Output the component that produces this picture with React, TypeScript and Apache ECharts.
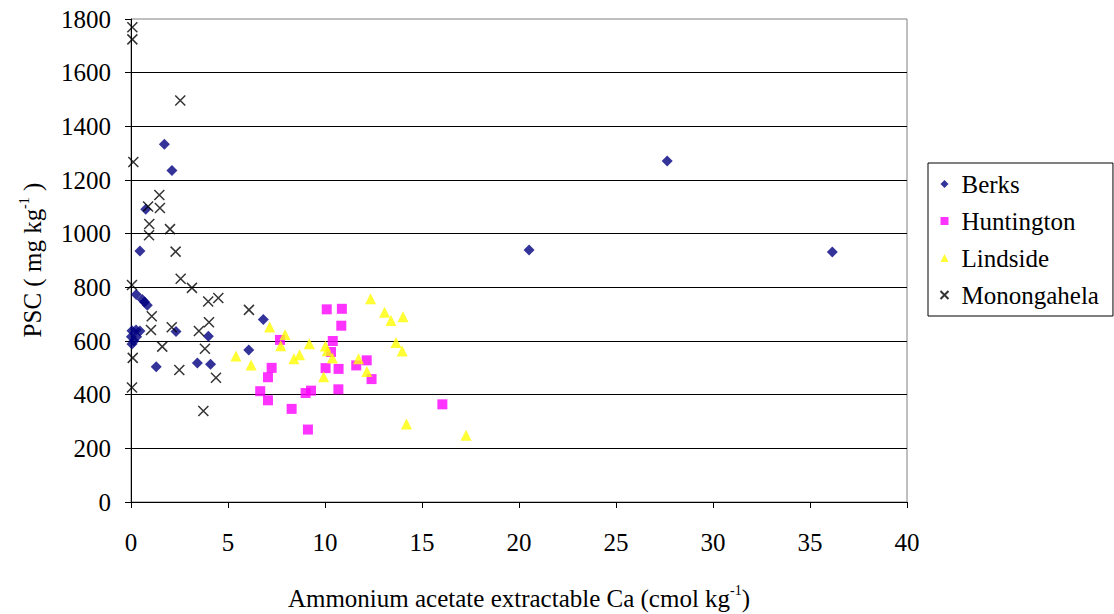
import React, { useEffect, useRef } from "react";
import * as echarts from "echarts";

const seriesNames = ["Berks", "Huntington", "Lindside", "Monongahela"];
const xTicks = { min: 0, max: 40, interval: 5 };
const yTicks = { min: 0, max: 1800, interval: 200 };

const berks: [number, number][] = [
  [1.72, 1333], [2.11, 1235], [0.76, 1091], [0.46, 935], [0.27, 773],
  [0.58, 755], [0.7, 745], [0.84, 733], [6.82, 680], [2.32, 635],
  [3.99, 618], [6.07, 566], [1.3, 504], [3.42, 518], [4.1, 513],
  [0.05, 638], [0.26, 641], [0.46, 637], [0.02, 616], [0.29, 616],
  [0.05, 589], [0.15, 600], [20.52, 939], [27.64, 1271], [36.15, 932],
];

const huntington: [number, number][] = [
  [7.68, 604], [7.25, 500], [7.06, 465], [6.66, 413], [7.06, 379],
  [8.28, 347], [9.0, 406], [9.28, 415], [9.12, 270], [10.09, 718],
  [10.87, 720], [10.84, 657], [10.4, 600], [10.31, 559], [10.03, 499],
  [10.7, 496], [10.69, 420], [12.15, 528], [11.61, 509], [12.4, 458],
  [16.05, 364],
];

const lindside: [number, number][] = [
  [5.41, 544], [6.19, 511], [7.15, 652], [7.94, 624], [7.72, 582],
  [8.4, 534], [8.69, 549], [9.19, 590], [10.02, 581], [10.12, 564],
  [10.38, 537], [9.93, 467], [11.73, 534], [12.16, 486], [12.35, 757],
  [13.07, 707], [13.4, 676], [14.02, 690], [13.66, 594], [13.98, 563],
  [14.2, 291], [17.27, 249],
];

const monongahela: [number, number][] = [
  [0.07, 1769], [0.07, 1724], [2.54, 1496], [0.12, 1267], [1.46, 1144],
  [1.49, 1096], [0.88, 1101], [0.94, 1036], [2.01, 1017], [0.93, 994],
  [2.3, 933], [2.56, 832], [0.05, 809], [3.14, 798], [3.98, 747],
  [4.5, 760], [6.08, 716], [1.07, 692], [4.02, 670], [2.1, 651],
  [1.03, 641], [3.5, 637], [1.61, 579], [3.81, 571], [0.09, 537],
  [2.49, 492], [4.38, 463], [0.05, 427], [3.73, 339],
];

const FONT = "Liberation Serif";

export default function App() {
  const ref = useRef<HTMLDivElement>(null);
  useEffect(() => {
    const chart = echarts.init(ref.current!, null, { renderer: "svg" });
    const titleRich = {
      a: { fontSize: 25, fontFamily: FONT, color: "#000", lineHeight: 28, verticalAlign: "bottom" },
      s: { fontSize: 14, fontFamily: FONT, color: "#000", lineHeight: 14, verticalAlign: "top" },
    };
    chart.setOption({
      animation: false,
      backgroundColor: "#fff",
      textStyle: { fontFamily: FONT },
      grid: {
        left: 131, top: 19, right: 207, bottom: 112,
        show: true, borderColor: "#808080", borderWidth: 1,
      },
      xAxis: {
        type: "value",
        min: xTicks.min, max: xTicks.max, interval: xTicks.interval,
        axisLine: { show: true, onZero: false, lineStyle: { color: "#000", width: 1 } },
        axisTick: { show: true, length: 6, lineStyle: { color: "#000" } },
        axisLabel: { fontSize: 25, fontFamily: FONT, color: "#000", margin: 28 },
        splitLine: { show: false },
      },
      yAxis: {
        type: "value",
        min: yTicks.min, max: yTicks.max, interval: yTicks.interval,
        axisLine: { show: true, onZero: false, lineStyle: { color: "#000", width: 1 } },
        axisTick: { show: true, length: 6, lineStyle: { color: "#000" } },
        axisLabel: {
          fontSize: 25, fontFamily: FONT, color: "#000", margin: 20,
          formatter: (v: number) => String(v),
        },
        splitLine: { show: true, showMaxLine: false, lineStyle: { color: "#000", width: 1 } },
      },
      legend: {
        orient: "vertical",
        left: 928, top: 163,
        borderColor: "#000", borderWidth: 1,
        padding: [8, 14, 8, 10],
        itemGap: 11,
        itemWidth: 8, itemHeight: 8,
        textStyle: { fontSize: 25, fontFamily: FONT, color: "#000", lineHeight: 26, padding: [0, 0, 0, 8] },
        data: seriesNames,
      },
      graphic: [
        {
          type: "text",
          x: 31, y: 260,
          rotation: Math.PI / 2,
          style: {
            text: "{a|PSC ( mg kg}{s|-1}{a| )}",
            rich: titleRich,
            font: "25px Liberation Serif",
            align: "center", verticalAlign: "middle",
          },
        },
        {
          type: "text",
          x: 519, y: 597,
          style: {
            text: "{a|Ammonium acetate extractable Ca (cmol kg}{s|-1}{a|)}",
            rich: titleRich,
            font: "25px Liberation Serif",
            align: "center", verticalAlign: "middle",
          },
        },
      ],
      series: [
        {
          type: "scatter", name: seriesNames[0], data: berks,
          symbol: "diamond", symbolSize: [11, 11],
          itemStyle: { color: "#000080" },
          emphasis: { disabled: true },
        },
        {
          type: "scatter", name: seriesNames[1], data: huntington,
          symbol: "rect", symbolSize: 10,
          itemStyle: { color: "#FF00FF" },
          emphasis: { disabled: true },
        },
        {
          type: "scatter", name: seriesNames[2], data: lindside,
          symbol: "triangle", symbolSize: 11,
          itemStyle: { color: "#FFFF00" },
          emphasis: { disabled: true },
        },
        {
          type: "scatter", name: seriesNames[3], data: monongahela,
          symbol: "path://M0,0L10,10M10,0L0,10", symbolSize: 10,
          itemStyle: { color: "none", borderColor: "#000", borderWidth: 1.5 },
          emphasis: { disabled: true },
        },
      ],
    });
    return () => chart.dispose();
  }, []);
  return (
    <div
      ref={ref}
      style={{ position: "fixed", left: 0, top: 0, width: 1114, height: 614, background: "#fff" }}
    />
  );
}
